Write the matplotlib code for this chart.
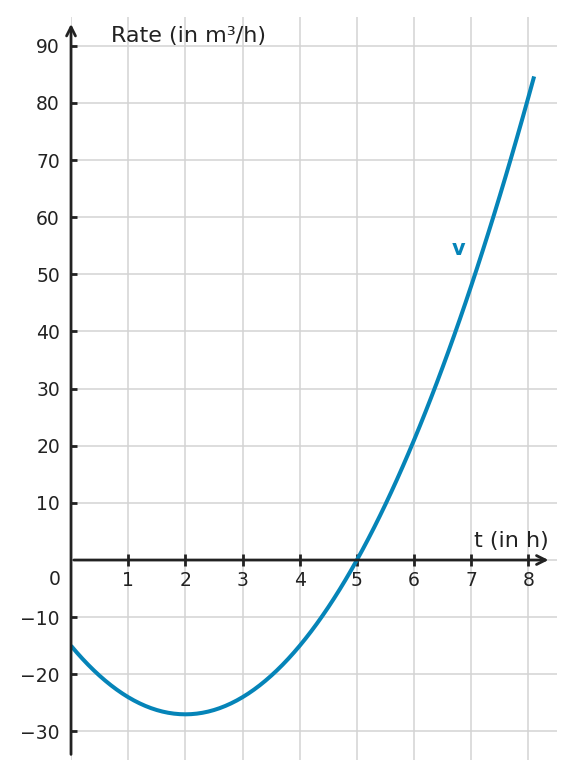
import matplotlib.pyplot as plt

# values (t in h, v in m3/h)
t = [0.0, 0.1, 0.2, 0.3, 0.4, 0.5, 0.6, 0.7, 0.8, 0.9,
     1.0, 1.1, 1.2, 1.3, 1.4, 1.5, 1.6, 1.7, 1.8, 1.9,
     2.0, 2.1, 2.2, 2.3, 2.4, 2.5, 2.6, 2.7, 2.8, 2.9,
     3.0, 3.1, 3.2, 3.3, 3.4, 3.5, 3.6, 3.7, 3.8, 3.9,
     4.0, 4.1, 4.2, 4.3, 4.4, 4.5, 4.6, 4.7, 4.8, 4.9,
     5.0, 5.1, 5.2, 5.3, 5.4, 5.5, 5.6, 5.7, 5.8, 5.9,
     6.0, 6.1, 6.2, 6.3, 6.4, 6.5, 6.6, 6.7, 6.8, 6.9,
     7.0, 7.1, 7.2, 7.3, 7.4, 7.5, 7.6, 7.7, 7.8, 7.9,
     8.0, 8.1]
v = [-15.0, -16.17, -17.28, -18.33, -19.32, -20.25, -21.12, -21.93, -22.68, -23.37,
     -24.0, -24.57, -25.08, -25.53, -25.92, -26.25, -26.52, -26.73, -26.88, -26.97,
     -27.0, -26.97, -26.88, -26.73, -26.52, -26.25, -25.92, -25.53, -25.08, -24.57,
     -24.0, -23.37, -22.68, -21.93, -21.12, -20.25, -19.32, -18.33, -17.28, -16.17,
     -15.0, -13.77, -12.48, -11.13, -9.72, -8.25, -6.72, -5.13, -3.48, -1.77,
     0.0, 1.83, 3.72, 5.67, 7.68, 9.75, 11.88, 14.07, 16.32, 18.63,
     21.0, 23.43, 25.92, 28.47, 31.08, 33.75, 36.48, 39.27, 42.12, 45.03,
     48.0, 51.03, 54.12, 57.27, 60.48, 63.75, 67.08, 70.47, 73.92, 77.43,
     81.0, 84.63]
xticks = [1, 2, 3, 4, 5, 6, 7, 8]
yticks = [-30, -20, -10, 10, 20, 30, 40, 50, 60, 70, 80, 90]

txt = '#222222'
blue = '#0584b8'

fig = plt.figure(figsize=(5.76, 7.8), dpi=100)
ax = fig.add_axes([0.1233, 0.0256, 0.967 - 0.1233, 0.978 - 0.0256])
ax.set_xlim(0, 8.5)
ax.set_ylim(-35, 95)

# grid
for x in range(0, 9):
    ax.axvline(x, color='#d3d3d3', lw=1.1, zorder=0)
for y in range(-30, 100, 10):
    ax.axhline(y, color='#d3d3d3', lw=1.1, zorder=0)

for s in ax.spines.values():
    s.set_visible(False)
ax.spines['bottom'].set_position(('data', 0))
ax.spines['left'].set_position(('data', 0))

# axes with arrows
ax.annotate('', xy=(8.4, 0), xytext=(0, 0),
            arrowprops=dict(arrowstyle='->', lw=2, color=txt, mutation_scale=16), zorder=3)
ax.annotate('', xy=(0, 94.3), xytext=(0, -34.5),
            arrowprops=dict(arrowstyle='->', lw=2, color=txt, mutation_scale=16), zorder=3)

ax.set_xticks(xticks)
ax.set_yticks(yticks)
ax.tick_params(axis='x', direction='inout', length=8, width=2, color=txt,
               labelsize=13.5, labelcolor=txt, pad=4)
ax.tick_params(axis='y', direction='in', length=4.5, width=2, color=txt,
               labelsize=13.5, labelcolor=txt, pad=8)
ax.set_yticklabels(['\u221230', '\u221220', '\u221210'] + [str(y) for y in yticks[3:]])
ax.text(-0.29, -3.4, '0', ha='center', va='center', fontsize=13.5, color=txt)

ax.plot(t, v, color=blue, lw=2.9, zorder=2, solid_capstyle='butt')

ax.text(0.7, 91.7, 'Rate (in m\u00b3/h)', fontsize=16, color=txt, ha='left', va='center')
ax.text(8.35, 3.4, 't (in h)', fontsize=16, color=txt, ha='right', va='center')
ax.text(6.78, 54.4, 'v', fontsize=15, color=blue, fontweight='bold', ha='center', va='center')

fig.savefig('out.png', dpi=100)
